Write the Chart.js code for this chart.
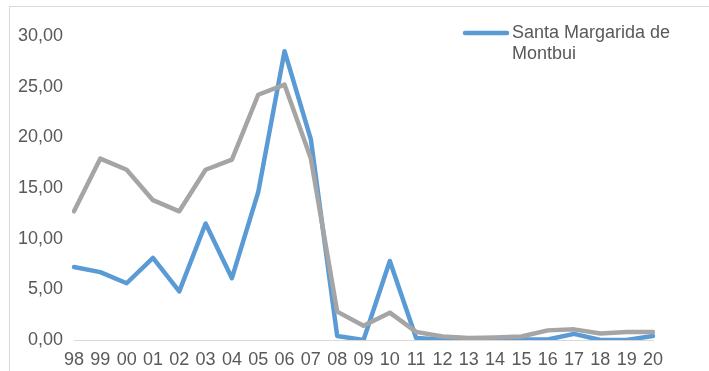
<!DOCTYPE html>
<html>
<head>
<meta charset="utf-8">
<script src="https://cdn.jsdelivr.net/npm/chart.js@4"></script>
<style>
  html, body { margin: 0; padding: 0; background: #fff; }
  #wrap { width: 709px; height: 371px; position: relative; }
</style>
</head>
<body>
<div id="wrap"><canvas id="chart"></canvas></div>
<script>
const years = ['98','99','00','01','02','03','04','05','06','07','08','09','10','11','12','13','14','15','16','17','18','19','20'];
const montbui = [7.2, 6.7, 5.6, 8.1, 4.8, 11.5, 6.1, 14.6, 28.5, 19.8, 0.4, 0.0, 7.8, 0.2, 0.05, 0.0, 0.1, 0.05, 0.05, 0.6, 0.0, 0.0, 0.4];
const comparison = [12.7, 17.9, 16.8, 13.8, 12.7, 16.8, 17.8, 24.2, 25.2, 17.9, 2.8, 1.4, 2.7, 0.8, 0.35, 0.2, 0.25, 0.35, 0.95, 1.05, 0.65, 0.8, 0.8];
const yTicks = [0, 5, 10, 15, 20, 25, 30];

const textColor = '#595959';
const font = { family: 'Arial, "Liberation Sans", sans-serif', size: 18 };

// frame + legend for the first series only (its label wraps on two lines)
const extras = {
  id: 'extras',
  beforeDraw(chart) {
    const ctx = chart.ctx;
    ctx.save();
    ctx.strokeStyle = '#d9d9d9';
    ctx.lineWidth = 1;
    ctx.strokeRect(9.5, 6.5, 800, 500);
    ctx.restore();
  },
  afterDraw(chart) {
    const ctx = chart.ctx;
    const ds = chart.data.datasets[0];
    ctx.save();
    ctx.strokeStyle = ds.borderColor;
    ctx.lineWidth = 4.5;
    ctx.lineCap = 'round';
    ctx.beginPath();
    ctx.moveTo(465, 33);
    ctx.lineTo(507, 33);
    ctx.stroke();
    ctx.fillStyle = textColor;
    ctx.font = font.size + 'px ' + font.family;
    ctx.textBaseline = 'middle';
    ctx.fillText('Santa Margarida de', 512, 33);
    ctx.fillText('Montbui', 512, 54);
    ctx.restore();
  }
};

new Chart(document.getElementById('chart'), {
  type: 'line',
  data: {
    labels: years,
    datasets: [
      {
        label: 'Santa Margarida de Montbui',
        data: montbui,
        borderColor: '#5b9bd5',
        borderWidth: 4.5,
        pointRadius: 0,
        tension: 0,
        borderJoinStyle: 'round',
        borderCapStyle: 'round',
        order: 1
      },
      {
        label: 'Referència',
        data: comparison,
        borderColor: '#a5a5a5',
        borderWidth: 4.5,
        pointRadius: 0,
        tension: 0,
        borderJoinStyle: 'round',
        borderCapStyle: 'round',
        order: 0
      }
    ]
  },
  options: {
    responsive: true,
    maintainAspectRatio: false,
    animation: false,
    layout: { padding: { top: 36, right: 56, left: 0, bottom: 0 } },
    plugins: {
      legend: { display: false },
      tooltip: { enabled: false }
    },
    scales: {
      x: {
        grid: { display: false, drawTicks: false },
        border: { display: true, color: '#d9d9d9', width: 1 },
        ticks: { color: textColor, font: font, padding: 9, autoSkip: false, maxRotation: 0 },
        afterFit(scale) { scale.height = 31; }
      },
      y: {
        min: 0,
        max: 30,
        grid: { display: false, drawTicks: false },
        border: { display: false },
        afterBuildTicks(scale) { scale.ticks = yTicks.map(v => ({ value: v })); },
        ticks: {
          color: textColor,
          font: font,
          padding: 11,
          callback: v => v.toFixed(2).replace('.', ',')
        },
        afterFit(scale) { scale.width = 74; }
      }
    }
  },
  plugins: [extras]
});
</script>
</body>
</html>
